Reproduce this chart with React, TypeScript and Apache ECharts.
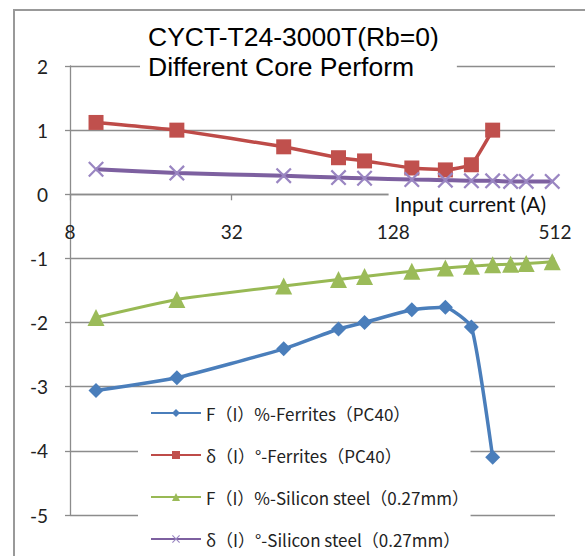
import React, { useEffect, useRef } from "react";
import * as echarts from "echarts";

const titleLines = ["CYCT-T24-3000T(Rb=0)", "Different Core Perform"];
const xAxisTitle = "Input current (A)";
const seriesNames = [
  "F（I）%-Ferrites（PC40）",
  "δ（I）°-Ferrites（PC40）",
  "F（I）%-Silicon steel（0.27mm）",
  "δ（I）°-Silicon steel（0.27mm）",
];
const ferriteCurrents = [10, 20, 50, 80, 100, 150, 200, 250, 300];
const ferriteF = [-3.06, -2.86, -2.41, -2.1, -2.0, -1.8, -1.76, -2.07, -4.1];
const ferriteDelta = [1.12, 1.0, 0.74, 0.57, 0.52, 0.41, 0.38, 0.46, 1.0];
const siliconCurrents = [10, 20, 50, 80, 100, 150, 200, 250, 300, 350, 400, 500];
const siliconF = [-1.92, -1.64, -1.43, -1.33, -1.28, -1.2, -1.15, -1.12, -1.1, -1.09, -1.08, -1.05];
const siliconDelta = [0.39, 0.33, 0.29, 0.26, 0.25, 0.23, 0.22, 0.21, 0.21, 0.2, 0.2, 0.2];
const xMin = 8;
const xMax = 512;
const yMin = -5;
const yMax = 2;

const pair = (xs: number[], ys: number[]) => xs.map((x, i) => [x, ys[i]]);

const crossPath =
  "path://M0,1L1,0L5,4L9,0L10,1L6,5L10,9L9,10L5,6L1,10L0,9L4,5Z";

export default function App() {
  const ref = useRef<HTMLDivElement>(null);
  useEffect(() => {
    if (!ref.current) return;
    const chart = echarts.init(ref.current, null, { renderer: "svg" });
    const grey = "#8c8c8c";
    const labelFont = "Lato, 'Open Sans', sans-serif";
    const gridTop = 66;
    const gridBottom = 41;
    const plotH = 556 - gridTop - gridBottom;
    const zeroFromBottom = (plotH * (0 - yMin)) / (yMax - yMin);
    chart.setOption({
      animation: false,
      backgroundColor: "#fff",
      title: {
        text: titleLines.join("\n"),
        left: 140,
        top: 18,
        padding: [4, 18, 4, 8],
        backgroundColor: "#fff",
        textStyle: {
          fontFamily: "'Liberation Sans', Arial, sans-serif",
          fontSize: 26.5,
          fontWeight: "normal",
          color: "#000",
          lineHeight: 30,
        },
      },
      legend: {
        orient: "vertical",
        left: 138,
        top: 393,
        padding: [10, 2, 0, 12],
        backgroundColor: "#fff",
        itemWidth: 50,
        itemHeight: 10,
        itemGap: 22,
        textStyle: {
          fontFamily: "'Noto Sans CJK SC', sans-serif",
          fontSize: 17,
          lineHeight: 20,
          color: "#222",
        },
        data: seriesNames,
      },
      grid: { left: 70, right: 30, top: gridTop, bottom: gridBottom },
      xAxis: {
        type: "log",
        logBase: 2,
        min: xMin,
        max: xMax,
        interval: 2,
        offset: -zeroFromBottom,
        axisLine: { onZero: false, lineStyle: { color: grey, width: 1.3 } },
        axisTick: { show: true, inside: false, length: 6, lineStyle: { color: grey, width: 1.3 } },
        axisLabel: {
          margin: 28,
          fontFamily: labelFont,
          fontSize: 19,
          color: "#222",
        },
        splitLine: { show: false },
        minorTick: { show: false },
      },
      yAxis: {
        type: "value",
        min: yMin,
        max: yMax,
        interval: 1,
        axisLine: { show: true, lineStyle: { color: grey, width: 1.3 } },
        axisTick: { show: true, length: 5, lineStyle: { color: grey, width: 1.3 } },
        axisLabel: {
          margin: 22,
          fontFamily: labelFont,
          fontSize: 19,
          color: "#222",
        },
        splitLine: { show: true, lineStyle: { color: grey, width: 1.3 } },
      },
      graphic: [
        {
          type: "rect",
          z: 100,
          shape: { x: 14, y: 10, width: 700, height: 700 },
          style: { fill: "none", stroke: "#999", lineWidth: 2 },
          silent: true,
        },
        {
          type: "text",
          z: 50,
          x: 557,
          y: 190,
          style: {
            text: xAxisTitle,
            align: "right",
            verticalAlign: "top",
            fontFamily: labelFont,
            fontSize: 21,
            fill: "#111",
            backgroundColor: "#fff",
            padding: [3, 11, 3, 6],
          },
        },
      ],
      series: [
        {
          name: seriesNames[0],
          type: "line",
          data: pair(ferriteCurrents, ferriteF),
          smooth: 0.15,
          symbol: "diamond",
          symbolSize: 15,
          lineStyle: { color: "#4a7ebb", width: 3.5 },
          itemStyle: { color: "#4a7ebb" },
        },
        {
          name: seriesNames[1],
          type: "line",
          data: pair(ferriteCurrents, ferriteDelta),
          smooth: 0.1,
          symbol: "rect",
          symbolSize: 15,
          lineStyle: { color: "#be4b48", width: 3.5 },
          itemStyle: { color: "#c0504d" },
        },
        {
          name: seriesNames[2],
          type: "line",
          data: pair(siliconCurrents, siliconF),
          smooth: 0.15,
          symbol: "triangle",
          symbolSize: 17,
          lineStyle: { color: "#98b954", width: 3 },
          itemStyle: { color: "#9bbb59" },
        },
        {
          name: seriesNames[3],
          type: "line",
          data: pair(siliconCurrents, siliconDelta),
          smooth: 0.15,
          symbol: crossPath,
          symbolSize: 16,
          lineStyle: { color: "#7d60a0", width: 4 },
          itemStyle: { color: "#9a86c2" },
        },
      ],
    });
    return () => chart.dispose();
  }, []);
  return (
    <div
      ref={ref}
      style={{ position: "fixed", left: 0, top: 0, width: 585, height: 556 }}
    />
  );
}
